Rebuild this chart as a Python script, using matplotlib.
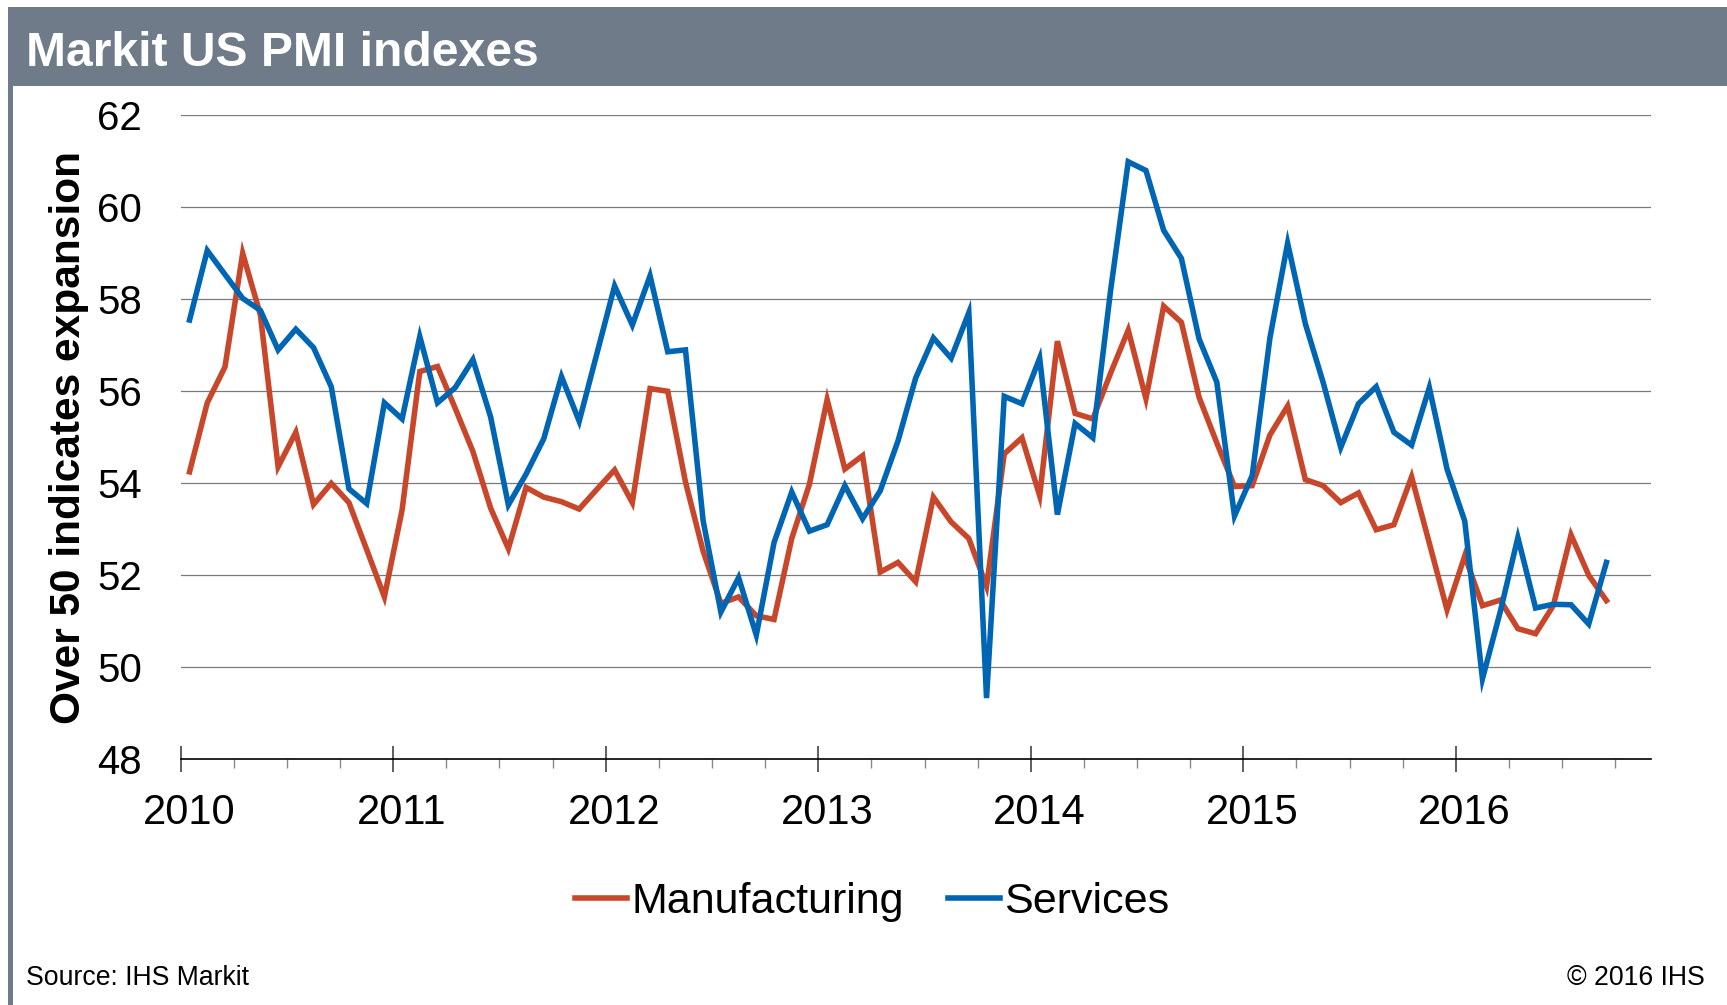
import matplotlib
matplotlib.use("Agg")
import matplotlib.pyplot as plt
from matplotlib.patches import Rectangle
from matplotlib.ticker import FixedLocator, NullFormatter
from matplotlib.transforms import ScaledTranslation

plt.rcParams['font.family'] = ['Liberation Sans', 'DejaVu Sans']

# ---------------- data ----------------
years = ["2010", "2011", "2012", "2013", "2014", "2015", "2016"]
manufacturing = [
    54.25, 55.75, 56.53, 59.00, 57.66, 54.36, 55.11, 53.54, 54.00, 53.58, 52.56, 51.53,  # 2010
    53.42, 56.43, 56.54, 55.63, 54.69, 53.46, 52.58, 53.91, 53.70, 53.60, 53.44, 53.87,  # 2011
    54.29, 53.58, 56.06, 56.00, 54.03, 52.52, 51.39, 51.53, 51.12, 51.04, 52.80, 53.98,  # 2012
    55.82, 54.31, 54.60, 52.07, 52.28, 51.86, 53.70, 53.16, 52.80, 51.76, 54.64, 54.99,  # 2013
    53.73, 57.09, 55.52, 55.40, 56.39, 57.33, 55.84, 57.85, 57.50, 55.87, 54.88, 53.93,  # 2014
    53.95, 55.05, 55.68, 54.08, 53.95, 53.58, 53.79, 52.99, 53.10, 54.14, 52.70, 51.25,  # 2015
    52.42, 51.34, 51.46, 50.84, 50.73, 51.34, 52.88, 52.00, 51.45,                      # 2016
]
services = [
    57.55, 59.06, 58.54, 58.02, 57.76, 56.90, 57.35, 56.95, 56.10, 53.88, 53.56, 55.75,  # 2010
    55.40, 57.19, 55.75, 56.08, 56.69, 55.44, 53.53, 54.20, 54.97, 56.32, 55.35, 56.82,  # 2011
    58.29, 57.44, 58.51, 56.86, 56.90, 53.18, 51.20, 51.95, 50.70, 52.71, 53.81, 52.96,  # 2012
    53.10, 53.95, 53.23, 53.84, 54.92, 56.29, 57.16, 56.72, 57.71, 49.33, 55.89, 55.73,  # 2013
    56.72, 53.32, 55.30, 54.99, 58.18, 60.99, 60.80, 59.50, 58.89, 57.14, 56.20, 53.29,  # 2014
    54.17, 57.16, 59.22, 57.47, 56.20, 54.78, 55.73, 56.10, 55.11, 54.83, 56.08, 54.31,  # 2015
    53.18, 49.75, 51.20, 52.82, 51.29, 51.37, 51.36, 50.94, 52.28,                      # 2016
]
y_ticks = [48, 50, 52, 54, 56, 58, 60, 62]

RED = '#C8472B'
BLUE = '#0066B3'
HEADER = '#6F7B89'

W, H = 1727, 1005
fig = plt.figure(figsize=(W / 100, H / 100), dpi=100)
fig.patch.set_facecolor('white')

# header band and left border
fig.patches.append(Rectangle((8.3 / W, 1 - 85.7 / H), 1 - 8.3 / W, (85.7 - 7.3) / H,
                             transform=fig.transFigure, facecolor=HEADER, edgecolor='none', zorder=0))
fig.patches.append(Rectangle((8.3 / W, 0), 4.4 / W, 1 - 85.7 / H,
                             transform=fig.transFigure, facecolor=HEADER, edgecolor='none', zorder=0))
fig.text(26 / W, 1 - 53 / H, "Markit US PMI indexes", color='white', fontsize=34.6,
         fontweight='bold', ha='left', va='center')

left, right = 180.7 / W, 1650.7 / W
bottom, top = 1 - 759.3 / H, 1 - 115.3 / H
ax = fig.add_axes([left, bottom, right - left, top - bottom])

x_m = [i + 0.5 for i in range(len(manufacturing))]
x_s = [i + 0.5 for i in range(len(services))]
ax.plot(x_m, manufacturing, color=RED, lw=4.0, solid_joinstyle='miter', label='Manufacturing', zorder=3)
ax.plot(x_s, services, color=BLUE, lw=4.0, solid_joinstyle='miter', label='Services', zorder=4)

ax.set_xlim(0, 83)
ax.set_ylim(48, 62)

for s in ['left', 'right', 'top']:
    ax.spines[s].set_visible(False)
ax.spines['bottom'].set_color('black')
ax.spines['bottom'].set_linewidth(1.2)

ax.set_yticks(y_ticks)
ax.set_yticklabels([str(v) for v in y_ticks])
ax.tick_params(axis='y', length=0, pad=28, labelsize=29)
for v in y_ticks[1:]:
    ax.axhline(v, color='#7a7a7a', lw=0.9, zorder=1)

ax.set_xticks([12 * i for i in range(len(years))])
ax.set_xticklabels(years)
ax.xaxis.set_minor_locator(FixedLocator([m for m in range(3, 83, 3) if m % 12 != 0]))
ax.xaxis.set_minor_formatter(NullFormatter())
ax.tick_params(axis='x', which='major', direction='inout', length=18.3, width=1.1,
               color='#333333', pad=15, labelsize=30)
ax.tick_params(axis='x', which='minor', direction='out', length=6.5, width=1.0, color='#8a8a8a')
offset = ScaledTranslation(8.5 / 100, 0, fig.dpi_scale_trans)
for lab in ax.get_xticklabels():
    lab.set_transform(lab.get_transform() + offset)

fig.text(69 / W, 1 - 437.8 / H, "Over 50 indicates expansion", rotation=90, fontsize=30.5,
         fontweight='bold', ha='center', va='center')

fig.legend(loc='center', bbox_to_anchor=(872 / W, 1 - 902 / H), ncol=2, frameon=False,
           fontsize=31, handlelength=1.2, handletextpad=0.1, columnspacing=1.03, borderpad=0)

fig.text(26.4 / W, 1 - 977.7 / H, "Source: IHS Markit", fontsize=19.2, ha='left', va='center')
fig.text(1705 / W, 1 - 977.7 / H, "\u00a9 2016 IHS", fontsize=19.2, ha='right', va='center')

fig.savefig("out.png", dpi=100)
